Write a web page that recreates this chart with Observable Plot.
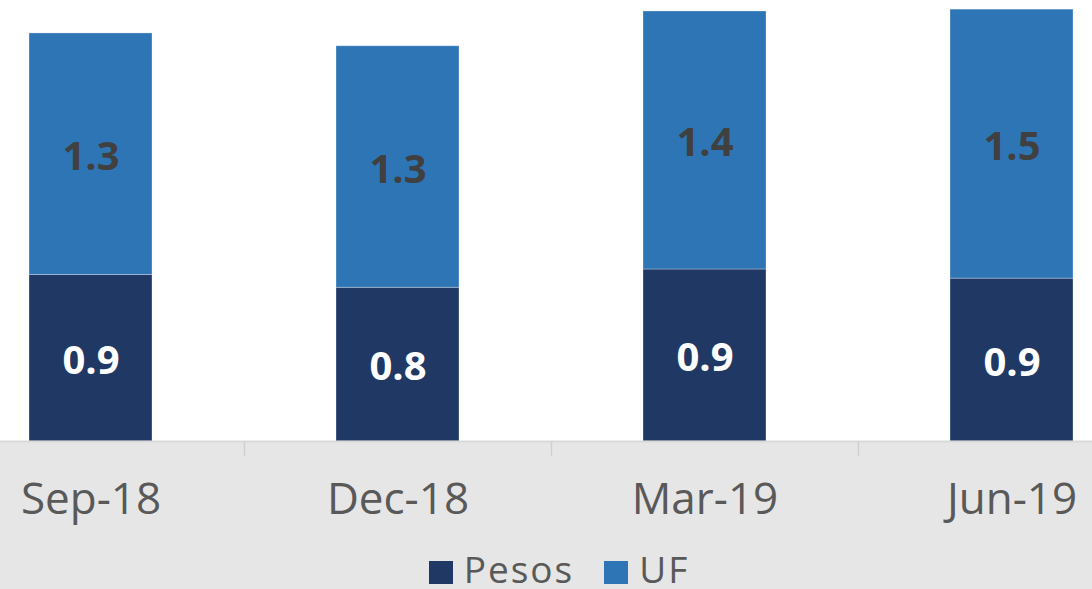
<!DOCTYPE html>
<html>
<head>
<meta charset="utf-8">
<script src="https://cdn.jsdelivr.net/npm/d3@7"></script>
<script src="https://cdn.jsdelivr.net/npm/@observablehq/plot@0.6"></script>
<style>
  html, body { margin: 0; padding: 0; background: #e6e6e6; overflow: hidden; }
  #chart { width: 1092px; height: 589px; overflow: hidden; }
  .legend { display: flex; justify-content: center; align-items: flex-start; padding-top: 20px; padding-left: 26px;
            font-family: "Open Sans", sans-serif; font-size: 37px; line-height: 37px; color: #595959; letter-spacing: 2px; }
  .legend .item { display: flex; align-items: flex-start; margin-right: 30px; }
  .legend .item:last-child { margin-right: 0; }
  .legend .sw { width: 24px; height: 23px; margin-top: 11px; margin-right: 11px; }
</style>
</head>
<body>
<div id="chart"></div>
<script>
const categories = ["Sep-18", "Dec-18", "Mar-19", "Jun-19"];
const series = ["Pesos", "UF"];
const pesos = [0.91, 0.84, 0.94, 0.89];
const uf = [1.32, 1.32, 1.41, 1.47];
const colors = ["#203864", "#2e75b6"];

const data = categories.flatMap((c, i) => [
  {period: c, series: "Pesos", value: pesos[i]},
  {period: c, series: "UF", value: uf[i]}
]);

const fmt = d3.format(".1f");
const W = 1092, H = 530, baseline = 441;
const xRange = [-63.5, 1164.5];
const step = (xRange[1] - xRange[0]) / categories.length;

const plot = Plot.plot({
  width: W,
  height: H,
  marginTop: 0,
  marginBottom: H - baseline,
  marginLeft: 0,
  marginRight: 0,
  style: {
    background: `linear-gradient(to bottom, #ffffff 0px, #ffffff ${baseline}px, #e6e6e6 ${baseline}px)`,
    fontFamily: "Open Sans",
    overflow: "visible"
  },
  x: {domain: categories, range: xRange, paddingInner: 0.6, paddingOuter: 0.3, label: null},
  y: {domain: [0, 2.41], axis: null},
  color: {domain: series, range: colors},
  marks: [
    Plot.barY(data, {x: "period", y: "value", fill: "series", stroke: "#ffffff", strokeOpacity: 0.3, strokeWidth: 1}),
    Plot.ruleY([0], {stroke: "#d9d9d9", strokeWidth: 2}),
    Plot.axisX({tickSize: 0, tickPadding: 41, fontSize: 44, color: "#595959", fontFamily: "Open Sans", label: null}),
    Plot.axisX(categories.slice(0, 3), {tickSize: 15, tickFormat: () => "", dx: step / 2, stroke: "#d0d0d0", strokeWidth: 1.5, label: null}),
    Plot.text(data, Plot.stackY({
      x: "period", y: "value", z: "series",
      text: d => d.series === "Pesos" ? fmt(d.value) : null,
      fill: "#ffffff", fontSize: 40, fontWeight: "bold", fontFamily: "Open Sans", dy: 3
    })),
    Plot.text(data, Plot.stackY({
      x: "period", y: "value", z: "series",
      text: d => d.series === "UF" ? fmt(d.value) : null,
      fill: "#404040", fontSize: 40, fontWeight: "bold", fontFamily: "Open Sans", dy: 3
    }))
  ]
});

const root = document.getElementById("chart");
root.appendChild(plot);

const legend = d3.select(root).append("div").attr("class", "legend");
series.forEach((s, i) => {
  const item = legend.append("div").attr("class", "item");
  item.append("div").attr("class", "sw").style("background", colors[i]);
  item.append("span").text(s);
});
</script>
</body>
</html>
